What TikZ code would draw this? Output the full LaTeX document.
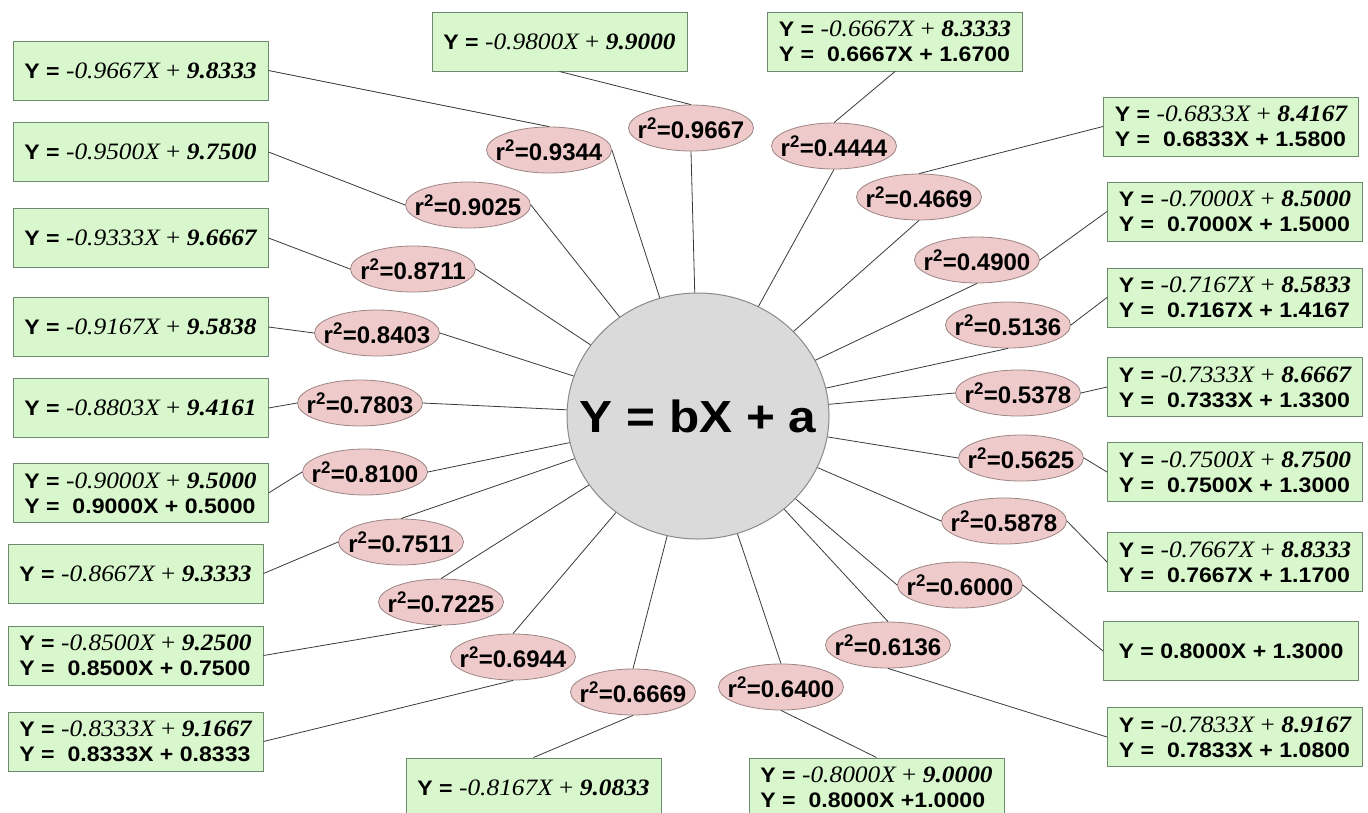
\documentclass[tikz,border=0pt]{standalone}
\usepackage{fontspec}
\setmainfont{Liberation Serif}[FakeStretch=1.08]
\setsansfont{Liberation Sans}
\newfontfamily\boxsans{Liberation Sans}[FakeStretch=1.1]
\usetikzlibrary{shapes.geometric}
\definecolor{boxbg}{HTML}{D9F7CC}
\definecolor{boxline}{HTML}{6E8A6E}
\definecolor{bubbg}{HTML}{EFCACA}
\definecolor{bubline}{HTML}{9E8585}
\definecolor{corebg}{HTML}{DADADA}
\definecolor{coreline}{HTML}{8A8A8A}
\definecolor{linkgray}{HTML}{3A3A3A}

% first line: Y = -bX + a (serif italic part)
\newcommand{\negline}[2]{Y = {\rmfamily\mdseries\fontsize{23.5}{25}\selectfont\itshape #1X \upshape+ \bfseries\itshape #2}}
\newcommand{\rsq}[1]{r\textsuperscript{2}=#1}

\begin{document}
\begin{tikzpicture}[x=1pt, y=-1pt,
  eqbox/.style={draw=boxline, fill=boxbg, line width=1pt, minimum width=255pt,
    minimum height=59pt, inner sep=2pt, align=left,
    font=\boxsans\bfseries\fontsize{21}{25}\selectfont},
  rbub/.style={ellipse, draw=bubline, fill=bubbg, line width=0.8pt,
    minimum width=125pt, minimum height=46pt, inner xsep=-12pt, inner ysep=0pt,
    font=\sffamily\bfseries\fontsize{24}{26}\selectfont},
  core/.style={ellipse, draw=coreline, fill=corebg, line width=1pt,
    minimum width=262pt, minimum height=246pt, inner xsep=-60pt, inner ysep=0pt,
    font=\boxsans\bfseries\fontsize{45}{50}\selectfont},
  link/.style={draw=linkgray, line width=0.8pt}]
  % page
  \fill[white] (0,0) rectangle (1368,812);
  \clip (0,0) rectangle (1368,812);

  % central node
  \node[core] (core) at (698,416) {Y = bX + a};

  % left column
  \node[eqbox] (q9667) at (140.5,70.5) {\negline{-0.9667}{9.8333}};
  \node[eqbox] (q9500) at (140.5,152) {\negline{-0.9500}{9.7500}};
  \node[eqbox] (q9333) at (140.5,238) {\negline{-0.9333}{9.6667}};
  \node[eqbox] (q9167) at (140.5,327) {\negline{-0.9167}{9.5838}};
  \node[eqbox] (q8803) at (140.5,408) {\negline{-0.8803}{9.4161}};
  \node[eqbox] (q9000) at (140.5,493) {\negline{-0.9000}{9.5000}\\Y = ~0.9000X + 0.5000};
  \node[eqbox] (q8667) at (135.5,573.5) {\negline{-0.8667}{9.3333}};
  \node[eqbox] (q8500) at (135.5,655.5) {\negline{-0.8500}{9.2500}\\Y = ~0.8500X + 0.7500};
  \node[eqbox] (q8333) at (135.5,741.5) {\negline{-0.8333}{9.1667}\\Y = ~0.8333X + 0.8333};

  % top row
  \node[eqbox] (q9800) at (559.5,41.5) {\negline{-0.9800}{9.9000}};
  \node[eqbox] (q6667) at (895,41.5) {\negline{-0.6667}{8.3333}\\Y = ~0.6667X + 1.6700};

  % right column
  \node[eqbox] (q6833) at (1231,126.5) {\negline{-0.6833}{8.4167}\\Y = ~0.6833X + 1.5800};
  \node[eqbox] (q7000) at (1235,211.5) {\negline{-0.7000}{8.5000}\\Y = ~0.7000X + 1.5000};
  \node[eqbox] (q7167) at (1235,297.5) {\negline{-0.7167}{8.5833}\\Y = ~0.7167X + 1.4167};
  \node[eqbox] (q7333) at (1235,387) {\negline{-0.7333}{8.6667}\\Y = ~0.7333X + 1.3300};
  \node[eqbox] (q7500) at (1235,472) {\negline{-0.7500}{8.7500}\\Y = ~0.7500X + 1.3000};
  \node[eqbox] (q7667) at (1235,562) {\negline{-0.7667}{8.8333}\\Y = ~0.7667X + 1.1700};
  \node[eqbox] (p8000) at (1231,651) {Y = 0.8000X + 1.3000};
  \node[eqbox] (q7833) at (1235,737) {\negline{-0.7833}{8.9167}\\Y = ~0.7833X + 1.0800};

  % bottom row
  \node[eqbox] (q8167) at (533.5,787.5) {\negline{-0.8167}{9.0833}};
  \node[eqbox] (q8000) at (876.5,787.5) {\negline{-0.8000}{9.0000}\\Y = ~0.8000X +1.0000};

  % r squared bubbles
  \node[rbub] (r9344) at (549,150) {\rsq{0.9344}};
  \node[rbub] (r9667) at (691,128) {\rsq{0.9667}};
  \node[rbub] (r4444) at (834,146) {\rsq{0.4444}};
  \node[rbub] (r9025) at (468,205) {\rsq{0.9025}};
  \node[rbub] (r8711) at (413,269) {\rsq{0.8711}};
  \node[rbub] (r8403) at (377,333) {\rsq{0.8403}};
  \node[rbub] (r7803) at (360,403) {\rsq{0.7803}};
  \node[rbub] (r8100) at (365,472) {\rsq{0.8100}};
  \node[rbub] (r7511) at (401,542) {\rsq{0.7511}};
  \node[rbub] (r7225) at (441,602) {\rsq{0.7225}};
  \node[rbub] (r6944) at (513,657) {\rsq{0.6944}};
  \node[rbub] (r6669) at (633,692) {\rsq{0.6669}};
  \node[rbub] (r6400) at (781,687) {\rsq{0.6400}};
  \node[rbub] (r6136) at (888,645) {\rsq{0.6136}};
  \node[rbub] (r6000) at (960,585) {\rsq{0.6000}};
  \node[rbub] (r5878) at (1004,521) {\rsq{0.5878}};
  \node[rbub] (r5625) at (1021,458) {\rsq{0.5625}};
  \node[rbub] (r5378) at (1018,393) {\rsq{0.5378}};
  \node[rbub] (r5136) at (1008,325) {\rsq{0.5136}};
  \node[rbub] (r4900) at (977,260) {\rsq{0.4900}};
  \node[rbub] (r4669) at (919,197) {\rsq{0.4669}};

  % box to bubble
  \draw[link] (q9667.east) -- (r9344.north);
  \draw[link] (q9800.south) -- (r9667.north);
  \draw[link] (q6667.south) -- (r4444.north);
  \draw[link] (q9500.east) -- (r9025.west);
  \draw[link] (q9333.east) -- (r8711.west);
  \draw[link] (q9167.east) -- (r8403.west);
  \draw[link] (q8803.east) -- (r7803.west);
  \draw[link] (q9000.east) -- (r8100.west);
  \draw[link] (q8667.east) -- (r7511.west);
  \draw[link] (q8500.east) -- (r7225.south);
  \draw[link] (q8333.east) -- (r6944.south);
  \draw[link] (q8167.north) -- (r6669.south);
  \draw[link] (q8000.north) -- (r6400.south);
  \draw[link] (q7833.west) -- (r6136.south);
  \draw[link] (p8000.west) -- (r6000.east);
  \draw[link] (q7667.west) -- (r5878.east);
  \draw[link] (q7500.west) -- (r5625.east);
  \draw[link] (q7333.west) -- (r5378.east);
  \draw[link] (q7167.west) -- (r5136.east);
  \draw[link] (q7000.west) -- (r4900.east);
  \draw[link] (q6833.west) -- (r4669.north);

  % bubble to centre
  \draw[link] (r9344.east) -- (core);
  \draw[link] (r9667.south) -- (core);
  \draw[link] (r4444.south) -- (core);
  \draw[link] (r9025.east) -- (core);
  \draw[link] (r8711.east) -- (core);
  \draw[link] (r8403.east) -- (core);
  \draw[link] (r7803.east) -- (core);
  \draw[link] (r8100.east) -- (core);
  \draw[link] (r7511.north) -- (core);
  \draw[link] (r7225.north) -- (core);
  \draw[link] (r6944.north) -- (core);
  \draw[link] (r6669.north) -- (core);
  \draw[link] (r6400.north) -- (core);
  \draw[link] (r6136.north) -- (core);
  \draw[link] (r6000.west) -- (core);
  \draw[link] (r5878.west) -- (core);
  \draw[link] (r5625.west) -- (core);
  \draw[link] (r5378.west) -- (core);
  \draw[link] (r5136.south) -- (core);
  \draw[link] (r4900.south) -- (core);
  \draw[link] (r4669.south) -- (core);
\end{tikzpicture}
\end{document}
